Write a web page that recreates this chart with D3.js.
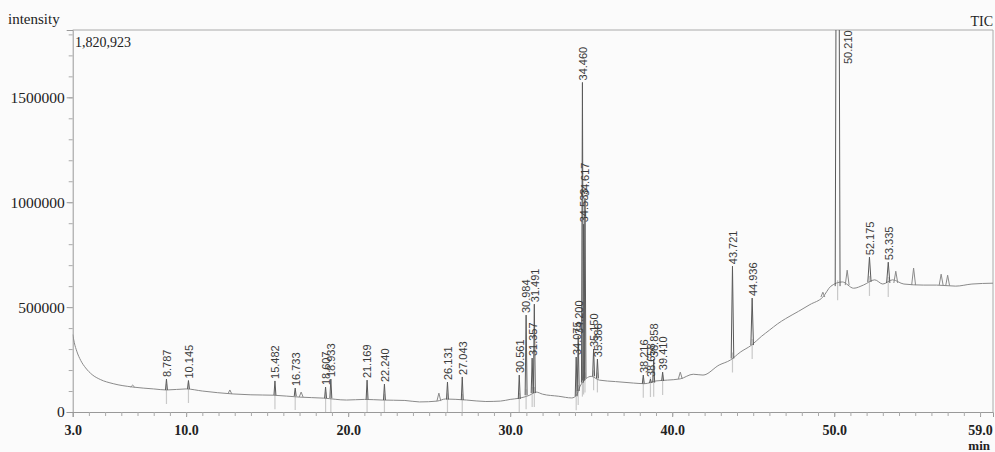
<!DOCTYPE html>
<html lang="en">
  <head>
    <meta charset="UTF-8" />
    <title>TIC chromatogram</title>
    <style>
      body {
        margin: 0;
        background: #fbfbfb;
      }
      .serif {
        font-family: "Liberation Serif", "DejaVu Serif", serif;
        fill: #222;
      }
      .peak-label {
        font-family: "Liberation Sans", Arial, sans-serif;
        font-size: 11px;
        fill: #3a3a3a;
      }
    </style>
  </head>
  <body>
    <svg width="995" height="452"></svg>

    <script src="https://cdn.jsdelivr.net/npm/d3@7"></script>

    <script>
      // baseline of the trace (min, intensity)
      const baseTimes = [3.0, 3.1, 3.25, 3.5, 3.8, 4.2, 4.7, 5.5, 6.7, 8.0, 8.8, 10.0, 11.0, 12.9, 14.0, 15.4, 17.0,
        18.5, 19.9, 21.0, 22.1, 23.5, 24.4, 25.5, 26.0, 27.3, 28.5, 29.4, 30.0, 30.5, 31.2, 31.6, 32.0, 33.0, 33.8,
        34.1, 34.3, 34.7, 35.0, 35.5, 36.5, 37.6, 38.3, 39.0, 39.7, 40.5, 41.3, 41.9, 42.9, 43.6, 44.2, 44.9, 45.5,
        46.0, 46.5, 47.0, 47.8, 48.5, 49.3, 49.8, 50.5, 51.2, 51.8, 52.5, 53.0, 53.6, 54.3, 55.5, 56.3, 57.5, 58.5,
        59.8];
      const baseValues = [370000, 330000, 290000, 245000, 210000, 178000, 155000, 135000, 119000, 110000, 105000,
        110000, 100000, 86000, 82000, 80000, 71000, 66000, 57000, 60000, 57000, 55000, 48000, 52000, 62000, 57000,
        50000, 52000, 60000, 65000, 80000, 95000, 85000, 75000, 67000, 80000, 120000, 160000, 170000, 152000,
        145000, 138000, 135000, 148000, 152000, 158000, 180000, 176000, 224000, 248000, 285000, 319000, 360000,
        390000, 420000, 445000, 480000, 512000, 548000, 600000, 620000, 590000, 605000, 630000, 610000, 630000,
        610000, 605000, 605000, 600000, 610000, 614000];

      // labelled peaks
      const peakLabels = ["8.787", "10.145", "15.482", "16.733", "18.607", "18.933", "21.169", "22.240", "26.131",
        "27.043", "30.561", "30.984", "31.357", "31.491", "34.075", "34.200", "34.460", "34.533", "34.617",
        "35.150", "35.386", "38.216", "38.658", "38.858", "39.410", "43.721", "44.936", "50.210", "52.175", "53.335"];
      const peakHeights = [157000, 150000, 148000, 114000, 119000, 157000, 152000, 133000, 143000, 167000,
        176000, 462000, 257000, 514000, 262000, 362000, 1571000, 895000, 1019000, 300000, 252000, 176000,
        157000, 252000, 190000, 695000, 543000, 4500000, 738000, 714000];
      const peakBases = [105000, 110000, 80000, 76000, 66000, 66000, 60000, 57000, 60000, 57000, 62000, 80000,
        90000, 90000, 75000, 100000, 140000, 150000, 160000, 170000, 160000, 135000, 138000, 140000, 148000,
        255000, 319000, 600000, 620000, 615000];
      const peakWidths = [0.06, 0.06, 0.06, 0.06, 0.06, 0.06, 0.06, 0.06, 0.06, 0.06, 0.06, 0.06, 0.06, 0.06,
        0.06, 0.06, 0.06, 0.06, 0.06, 0.06, 0.06, 0.06, 0.06, 0.06, 0.06, 0.08, 0.08, 0.15, 0.1, 0.1];

      // small unlabelled peaks
      const smallTimes = [6.7, 12.7, 17.1, 25.6, 40.5, 49.3, 50.8, 53.8, 54.9, 56.6, 57.0];
      const smallHeights = [128000, 105000, 95000, 90000, 190000, 571000, 676000, 671000, 686000, 657000, 652000];
      const smallBases = [119000, 86000, 71000, 52000, 158000, 548000, 605000, 615000, 605000, 605000, 602000];

      const xTickLabels = [3.0, 10.0, 20.0, 30.0, 40.0, 50.0, 59.0];
      const yTickLabels = [0, 500000, 1000000, 1500000];
      const yMax = 1820923;

      var svg = d3.select("svg");
      // note: "top" is taken by window.top, so the plot edges get their own names
      var plotLeft = 72.7, plotRight = 993, plotTop = 30, plotBottom = 412;

      var x = d3.scaleLinear().domain([3, 59.8]).range([plotLeft, plotRight]);
      var y = d3.scaleLinear().domain([0, yMax]).range([plotBottom, plotTop]);

      svg.append("clipPath")
        .attr("id", "plotclip")
        .append("rect")
        .attr("x", plotLeft)
        .attr("y", plotTop)
        .attr("width", plotRight - plotLeft)
        .attr("height", plotBottom - plotTop);

      // frame: top and right border
      svg.append("path")
        .attr("d", `M${plotLeft},${plotTop}H${plotRight}V${plotBottom}`)
        .attr("fill", "none")
        .attr("stroke", "#aaa");

      // y axis
      var yAxis = svg.append("g")
        .attr("transform", `translate(${plotLeft},0)`)
        .call(d3.axisLeft(y).tickValues(yTickLabels).tickSize(6).tickFormat(d3.format("d")));
      yAxis.select(".domain").attr("stroke", "#999");
      yAxis.selectAll("line").attr("stroke", "#999");
      yAxis.selectAll("text").attr("class", "serif").style("font-size", "15.5px").attr("x", -8);

      svg.append("g")
        .attr("transform", `translate(${plotLeft},0)`)
        .call(d3.axisLeft(y).tickValues(d3.range(100000, yMax, 100000)).tickSize(4).tickFormat(""))
        .call(g => g.select(".domain").remove())
        .selectAll("line").attr("stroke", "#aaa");

      // x axis
      var xAxis = svg.append("g")
        .attr("transform", `translate(0,${plotBottom})`)
        .call(d3.axisBottom(x).tickValues(xTickLabels).tickSize(5).tickPadding(8).tickFormat(d3.format(".1f")));
      xAxis.select(".domain").attr("stroke", "#999");
      xAxis.selectAll("line").attr("stroke", "#999");
      xAxis.selectAll("text").attr("class", "serif").style("font-size", "14px").style("font-weight", "bold");

      svg.append("g")
        .attr("transform", `translate(0,${plotBottom})`)
        .call(d3.axisBottom(x).tickValues(d3.range(4, 60, 1)).tickSize(4).tickFormat(""))
        .call(g => g.select(".domain").remove())
        .selectAll("line").attr("stroke", "#aaa");

      // texts round the plot
      svg.append("text").attr("class", "serif").attr("x", 8).attr("y", 24)
        .style("font-size", "15px").text("intensity");
      svg.append("text").attr("class", "serif").attr("x", 993).attr("y", 26)
        .attr("text-anchor", "end").style("font-size", "14px").text("TIC");
      svg.append("text").attr("class", "serif").attr("x", 990).attr("y", 450)
        .attr("text-anchor", "end").style("font-size", "13px").style("font-weight", "bold").text("min");
      svg.append("text").attr("class", "serif").attr("x", 75).attr("y", 47)
        .style("font-size", "14px").text("1,820,923");

      var plot = svg.append("g").attr("clip-path", "url(#plotclip)");

      var line = d3.line().x(d => x(d[0])).y(d => y(d[1]));

      // integration markers under the labelled peaks
      plot.selectAll(".marker")
        .data(peakLabels)
        .enter()
        .append("line")
        .attr("class", "marker")
        .attr("x1", d => x(+d))
        .attr("x2", d => x(+d))
        .attr("y1", (d, i) => y(peakBases[i]) - 6)
        .attr("y2", (d, i) => y(peakBases[i]) + 14)
        .attr("stroke", "#c9c9c9")
        .attr("stroke-width", 1.2);

      // baseline trace
      plot.append("path")
        .datum(baseTimes.map((t, i) => [t, baseValues[i]]))
        .attr("d", d3.line().curve(d3.curveMonotoneX).x(d => x(d[0])).y(d => y(d[1])))
        .attr("fill", "none")
        .attr("stroke", "#8a8a8a")
        .attr("stroke-width", 1);

      // small peaks
      plot.selectAll(".small")
        .data(smallTimes)
        .enter()
        .append("path")
        .attr("class", "small")
        .attr("d", (t, i) => line([[t - 0.12, smallBases[i]], [t, smallHeights[i]], [t + 0.12, smallBases[i]]]))
        .attr("fill", "none")
        .attr("stroke", "#8a8a8a");

      // labelled peaks
      plot.selectAll(".peak")
        .data(peakLabels)
        .enter()
        .append("path")
        .attr("class", "peak")
        .attr("d", (d, i) => {
          var t = +d, w = peakWidths[i];
          return line([[t - w, peakBases[i]], [t, peakHeights[i]], [t + w, peakBases[i]]]);
        })
        .attr("fill", "none")
        .attr("stroke", "#5a5a5a")
        .attr("stroke-width", 1);

      svg.selectAll(".peak-label")
        .data(peakLabels)
        .enter()
        .append("text")
        .attr("class", "peak-label")
        .attr("transform", (d, i) => {
          var px = x(+d), py = y(peakHeights[i]) - 2;
          if (py < plotTop + 40) {
            // off-scale peak: label pinned to the top, beside the line
            px += 10;
            py = plotTop + 34;
          }
          return `translate(${px + 0.5},${py}) rotate(-90)`;
        })
        .attr("dy", "0.35em")
        .text(d => d);
    </script>
  </body>
</html>
